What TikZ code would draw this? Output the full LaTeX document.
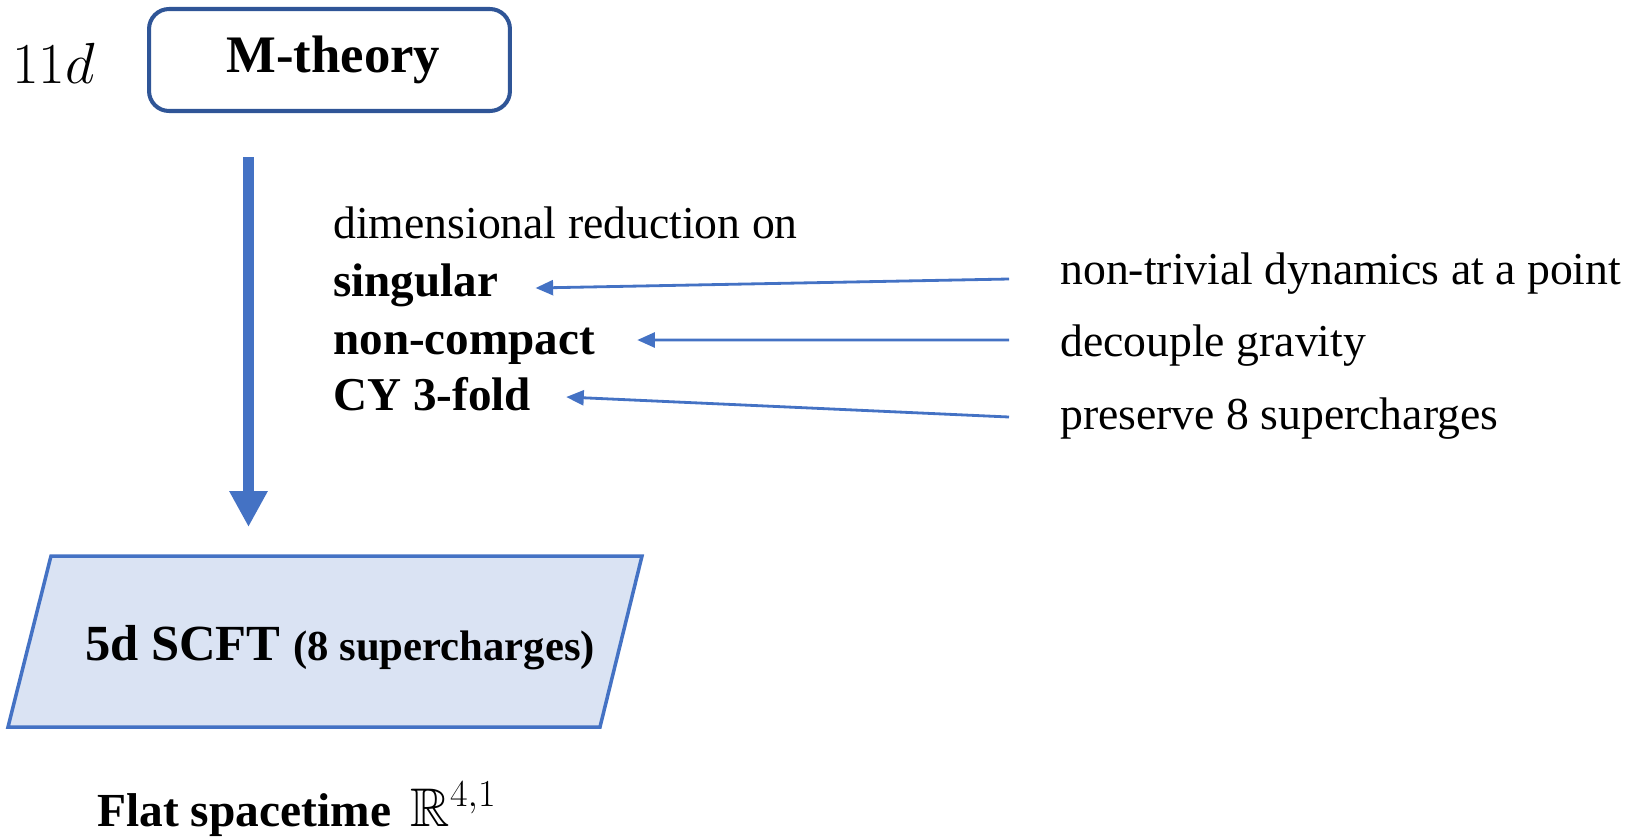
\documentclass[tikz,border=0pt]{standalone}
\usepackage{fix-cm}
\usepackage{amsmath}
\usepackage{amssymb}
\DeclareFontFamily{U}{msb}{}
\DeclareFontShape{U}{msb}{m}{n}{<->msbm10}{}
\usepackage{fontspec}
\setmainfont{Liberation Serif}
\usetikzlibrary{arrows.meta}

\definecolor{arrowblue}{HTML}{4472C4}
\definecolor{mblue}{HTML}{2F5597}
\definecolor{paleblue}{HTML}{DAE3F3}

\tikzset{
  theorybox/.style={draw=mblue, line width=2.3pt, rounded corners=0.4cm,
    minimum width=7.22cm, minimum height=2.04cm,
    font=\fontsize{30}{36}\selectfont\bfseries},
  scftframe/.style={draw=arrowblue, fill=paleblue, line width=2pt},
  remark/.style={inner sep=0pt, anchor=base west, font=\fontsize{26}{31}\selectfont},
  keyword/.style={remark, font=\fontsize{26.8}{32}\selectfont\bfseries},
  pointer/.style={-{Triangle[length=10pt,width=8.5pt]}, line width=1.6pt, draw=arrowblue},
  bigarrow/.style={-{Triangle[length=20.5pt,width=20.5pt]}, line width=6.5pt, draw=arrowblue}
}

\begin{document}
\begin{tikzpicture}[x=0.02cm,y=-0.02cm]
  \useasboundingbox (0,0) rectangle (1640,839);

  \node[theorybox]  (mth)   at (329.5,60)   {\hspace*{0.16cm}M-theory};
  \node[remark, font=\fontsize{33}{40}\selectfont] (dim) at (12,83) {$11d$};

  \draw[scftframe] (51,556) coordinate (scfttop) -- (642,556) -- (600,727) -- (8,727) -- cycle;
  \node[remark, anchor=base, font=\fontsize{28.8}{35}\selectfont\bfseries] (scft) at (340,660)
    {5d SCFT {\fontsize{24.3}{29}\selectfont (8 supercharges)}};
  \node[keyword, font=\fontsize{27}{32}\selectfont\bfseries] (flat) at (97,826)
    {Flat spacetime\, {\fontsize{31}{36}\selectfont$\mathbb{R}^{4,1}$}};

  \node[remark]  (dimred) at (333,238) {dimensional reduction on};
  \node[keyword] (sing)   at (333,296) {singular};
  \node[keyword] (noncpt) at (333,354) {non-compact};
  \node[keyword] (cy)     at (333,410) {CY 3-fold};

  \node[remark]  (dyn)    at (1060,284) {non-trivial dynamics at a point};
  \node[remark]  (grav)   at (1060,356) {decouple gravity};
  \node[remark]  (susy)   at (1060,429) {preserve 8 supercharges};

  \coordinate (drop) at ([xshift=2.03cm,yshift=-0.88cm]mth.south west);
  \draw[bigarrow, shorten >=16.5pt] (drop) -- (drop |- scfttop);

  \draw[pointer] ([xshift=-1.02cm,yshift=0.1cm]dyn.base west)
              -- ([xshift=0.74cm,yshift=0.16cm]sing.base east);
  \draw[pointer] ([xshift=-1.02cm,yshift=0.32cm]grav.base west)
              -- ([xshift=0.84cm,yshift=0.28cm]noncpt.base east);
  \draw[pointer] ([xshift=-1.02cm,yshift=0.24cm]susy.base west)
              -- ([xshift=0.7cm,yshift=0.26cm]cy.base east);
\end{tikzpicture}
\end{document}
